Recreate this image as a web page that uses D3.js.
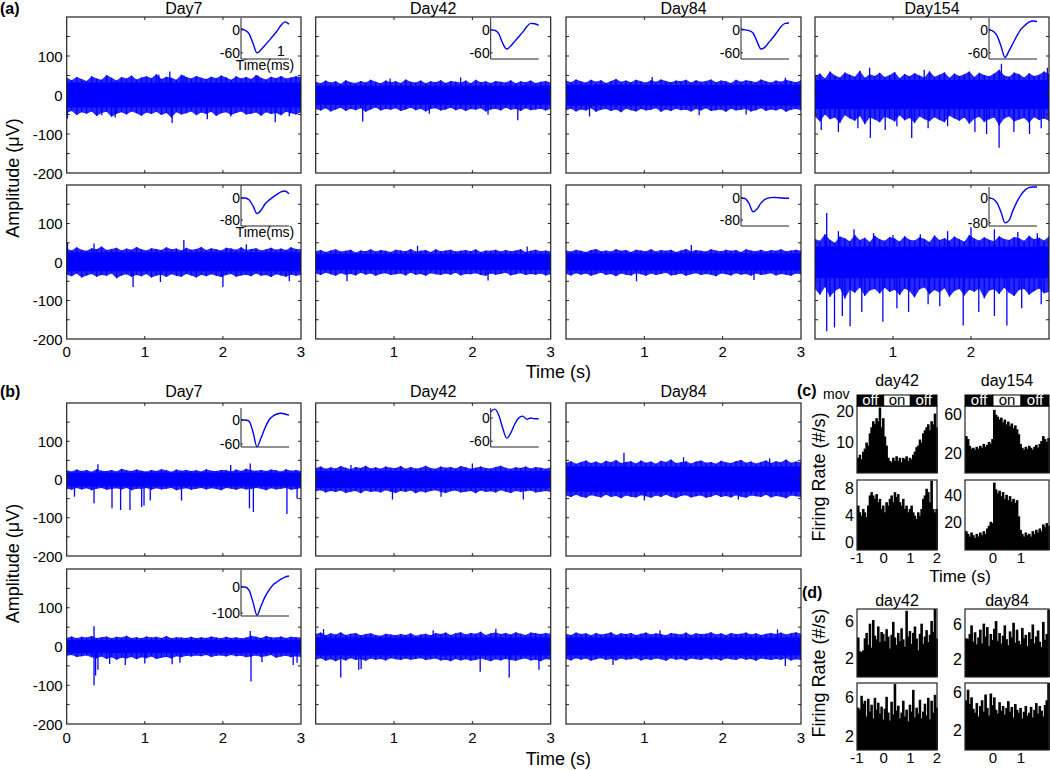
<!DOCTYPE html>
<html>
<head>
<meta charset="utf-8">
<script src="https://cdn.jsdelivr.net/npm/d3@7"></script>
<style>
  body { margin: 0; background: #fff; }
  text { font-family: "Liberation Sans", Arial, sans-serif; fill: #000; }
</style>
</head>
<body>
<div id="chart"></div>
<script>
// ---------- data ----------
// recordings: upper / lower envelope (µV) sampled evenly over 0-3 s,
// solid core band [lo, hi] and single spikes [time s, amplitude µV]
const A1Hi = [44,38,46,41,36,48,42,39,51,44,37,46,42,50,40,45,48,43,54,41,47,44,39,52,46,42,49,44,41,47,43,50,45,39,48,42,46,41,51,44,40,47,43,49,42,45,48,46];
const A1Lo = [-46,-41,-51,-44,-48,-42,-54,-46,-43,-56,-48,-44,-50,-42,-47,-53,-45,-49,-43,-51,-46,-58,-44,-50,-47,-42,-52,-45,-49,-43,-54,-47,-44,-51,-46,-42,-50,-48,-45,-53,-44,-49,-46,-52,-43,-47,-50,-44];
const A1Core = [-32, 32];
const A1Spikes = [[0.01,-60],[0.45,-52],[0.62,-58],[1.18,52],[1.32,60],[1.35,-72],[1.5,50],[1.8,-62],[2.1,-55],[2.45,50],[2.67,-70],[2.85,-55]];

const A2Hi = [34,30,37,32,35,29,38,33,31,36,32,39,34,30,37,33,35,31,40,34,32,37,30,35,33,38,31,36,34,32,37,30,39,33,35,31,36,34,32,38,30,35,33,37,31,34,36,32];
const A2Lo = [-36,-40,-34,-42,-37,-33,-41,-35,-39,-34,-43,-37,-32,-40,-36,-38,-34,-41,-37,-33,-39,-35,-42,-36,-34,-40,-37,-33,-39,-35,-41,-36,-38,-34,-42,-37,-35,-40,-33,-38,-36,-41,-34,-39,-37,-35,-40,-36];
const A2Core = [-25, 24];
const A2Spikes = [[0.6,-68],[2.58,-65],[1.85,45],[0.95,42],[2.2,-50],[1.45,-48]];

const A3Hi = [37,33,40,35,32,39,34,38,31,36,41,34,37,33,39,35,32,38,34,40,36,33,37,35,39,32,38,34,36,40,33,37,35,31,39,34,38,36,33,40,35,32,37,34,39,36,33,38];
const A3Lo = [-39,-35,-42,-37,-40,-34,-43,-38,-36,-41,-37,-44,-35,-39,-42,-36,-40,-38,-34,-43,-37,-41,-35,-39,-38,-42,-36,-40,-34,-41,-39,-37,-43,-35,-40,-38,-36,-42,-39,-34,-41,-37,-40,-35,-43,-38,-36,-39];
const A3Core = [-27, 26];
const A3Spikes = [[0.3,-55],[1.1,46],[1.7,-52],[2.3,-50],[2.8,44]];

const A4Hi = [48,55,42,60,50,45,58,52,47,62,44,53,49,57,46,51,59,43,54,48,56,50,45,61,47,52,58,44,55,49,53,60,46,57,51,48,55,65,50,47,58,53,45,56,49,52,60,54];
const A4Lo = [-55,-68,-50,-62,-58,-72,-52,-60,-66,-54,-75,-58,-63,-70,-56,-61,-68,-52,-65,-59,-72,-55,-62,-67,-57,-64,-70,-53,-60,-66,-58,-74,-61,-56,-69,-62,-58,-78,-60,-55,-68,-63,-59,-71,-57,-64,-60,-66];
const A4Core = [-36, 38];
const A4Spikes = [[0.08,-90],[0.3,-95],[0.55,-85],[0.71,-110],[0.9,-90],[1.05,-80],[1.24,-110],[1.45,-85],[1.7,-80],[2.05,-95],[2.2,-100],[2.36,-135],[2.39,80],[2.55,-95],[2.75,-100],[2.9,-85],[0.7,70],[1.4,65],[2.98,70]];

const A5Hi = [35,30,38,32,29,36,33,40,31,34,37,30,35,32,39,33,30,36,34,31,38,33,35,30,37,32,34,39,31,36,33,30,37,35,32,38,31,34,36,30,33,37,32,35,31,38,34,33];
const A5Lo = [-33,-37,-30,-40,-35,-31,-38,-34,-36,-30,-42,-35,-32,-38,-34,-37,-31,-40,-35,-33,-39,-32,-36,-38,-31,-35,-40,-33,-37,-32,-36,-39,-34,-31,-38,-35,-33,-37,-30,-36,-34,-39,-32,-35,-38,-33,-36,-34];
const A5Core = [-24, 25];
const A5Spikes = [[0.01,50],[0.35,48],[0.85,-65],[1.2,-52],[1.5,57],[2.0,-65],[2.3,46],[2.85,-50]];

const A6Hi = [28,31,26,30,33,27,29,32,25,30,28,33,27,31,29,26,32,30,28,34,27,29,31,26,33,28,30,32,27,29,31,28,33,26,30,29,32,27,31,28,30,33,26,29,32,28,30,27];
const A6Lo = [-30,-34,-28,-32,-36,-29,-33,-31,-35,-28,-33,-30,-36,-31,-29,-34,-32,-30,-35,-28,-33,-31,-36,-29,-32,-34,-30,-33,-28,-35,-31,-32,-29,-34,-36,-30,-33,-31,-28,-35,-32,-29,-34,-31,-33,-30,-35,-32];
const A6Core = [-21, 21];
const A6Spikes = [[0.4,-50],[1.3,42],[2.2,-48],[2.7,40]];

const A7Hi = [30,27,32,29,26,31,34,28,30,27,33,29,31,26,32,30,28,33,27,31,29,32,26,30,34,28,31,29,27,33,30,28,32,29,31,26,33,30,28,32,27,31,29,33,28,30,32,29];
const A7Lo = [-31,-35,-29,-33,-30,-36,-32,-28,-34,-31,-37,-30,-33,-35,-29,-32,-36,-30,-34,-31,-28,-35,-33,-30,-36,-32,-29,-34,-31,-33,-37,-30,-32,-35,-29,-33,-31,-36,-30,-34,-32,-29,-35,-31,-33,-36,-30,-32];
const A7Core = [-22, 22];
const A7Spikes = [[0.9,-50],[1.6,44],[2.4,-47]];

const A8Hi = [60,55,72,58,50,66,62,54,70,57,63,52,68,59,55,65,61,53,67,58,56,64,60,52,69,57,62,55,66,59,53,70,61,56,64,58,54,67,60,57,65,62,55,68,59,63,56,66];
const A8Lo = [-70,-85,-65,-90,-75,-68,-95,-72,-80,-66,-88,-74,-70,-82,-67,-78,-72,-86,-69,-76,-92,-71,-66,-84,-73,-79,-68,-90,-75,-70,-87,-72,-77,-69,-94,-74,-71,-83,-67,-80,-88,-73,-70,-85,-76,-69,-81,-78];
const A8Core = [-42, 40];
const A8Spikes = [[0.15,127],[0.3,80],[0.5,85],[0.75,75],[1.0,70],[1.35,72],[1.7,80],[2.0,90],[2.3,85],[2.6,78],[2.85,75],
  [0.15,-180],[0.25,-170],[0.35,-140],[0.45,-167],[0.6,-130],[0.87,-155],[1.05,-120],[1.2,-130],[1.45,-110],[1.6,-115],[1.9,-165],[2.1,-130],[2.3,-140],[2.46,-165],[2.65,-120],[2.9,-110]];

const B1Hi = [24,21,26,22,25,20,27,23,22,25,21,28,24,22,26,23,21,25,22,27,24,20,26,23,25,22,24,21,27,23,22,25,24,21,26,22,28,24,23,25,22,26,24,21,27,23,25,22];
const B1Lo = [-24,-27,-22,-26,-23,-28,-24,-22,-27,-25,-23,-26,-22,-28,-24,-25,-22,-27,-23,-26,-24,-22,-28,-25,-23,-27,-24,-22,-26,-23,-25,-28,-22,-24,-27,-23,-26,-25,-22,-24,-28,-23,-26,-24,-22,-27,-25,-23];
const B1Core = [-18, 18];
const B1Spikes = [[0.1,-45],[0.35,-62],[0.4,40],[0.58,-75],[0.69,-80],[0.81,-80],[0.96,-72],[0.99,-68],[1.07,-55],[1.47,-55],[2.1,38],[2.34,-75],[2.35,42],[2.39,-85],[2.82,-90],[2.95,-50]];

const B2Hi = [30,34,28,32,29,35,31,27,33,30,36,29,32,28,34,31,30,35,28,33,29,31,36,30,28,34,31,33,29,35,32,28,31,34,30,29,33,36,31,28,32,30,34,29,33,31,28,32];
const B2Lo = [-31,-28,-34,-30,-33,-29,-35,-32,-30,-36,-29,-33,-31,-34,-28,-32,-35,-30,-33,-29,-36,-31,-34,-30,-28,-33,-35,-31,-29,-34,-32,-30,-36,-29,-33,-31,-34,-28,-32,-35,-30,-33,-31,-29,-34,-32,-30,-33];
const B2Core = [-22, 22];
const B2Spikes = [[0.45,38],[0.98,-52],[1.6,-45],[2.0,42],[2.65,-52]];

const B3Hi = [44,48,41,46,50,43,47,42,49,45,51,43,46,48,42,50,44,47,41,49,46,52,43,45,48,42,47,50,44,46,41,49,45,43,48,51,44,47,42,46,50,43,48,45,52,44,47,46];
const B3Lo = [-42,-46,-40,-45,-48,-41,-44,-47,-40,-46,-43,-49,-42,-45,-47,-41,-44,-48,-42,-46,-40,-45,-49,-43,-41,-47,-44,-42,-48,-45,-40,-46,-43,-47,-41,-45,-48,-42,-44,-46,-40,-47,-43,-45,-49,-42,-44,-46];
const B3Core = [-32, 34];
const B3Spikes = [[0.74,70],[1.0,-55],[1.5,58],[2.2,-52],[2.6,55]];

const B4Hi = [22,26,21,25,23,27,22,24,26,21,25,23,28,22,24,21,26,23,25,22,27,21,24,23,22,25,21,24,22,26,23,21,25,22,24,21,23,28,25,22,27,24,23,26,22,25,24,23];
const B4Lo = [-24,-22,-27,-25,-23,-28,-30,-26,-32,-28,-34,-29,-31,-27,-33,-28,-30,-26,-32,-29,-27,-31,-25,-28,-24,-26,-23,-25,-22,-27,-24,-23,-26,-22,-25,-24,-28,-26,-23,-27,-25,-22,-29,-26,-24,-28,-25,-27];
const B4Core = [-17, 17];
const B4Spikes = [[0.35,52],[0.35,-100],[0.37,-75],[0.4,-60],[0.55,-45],[0.75,-48],[1.0,-44],[1.35,-46],[1.45,-42],[2.35,40],[2.36,-90],[2.5,-40],[2.9,-48],[2.95,-42]];

const B5Hi = [32,36,29,34,31,37,30,33,35,29,32,34,30,28,33,31,29,32,30,34,28,31,33,29,35,32,36,30,34,37,31,35,33,38,30,34,36,32,35,31,37,33,30,36,34,32,35,33];
const B5Lo = [-34,-30,-37,-33,-38,-32,-36,-30,-35,-33,-37,-31,-34,-32,-36,-30,-33,-35,-31,-34,-32,-30,-35,-33,-31,-36,-34,-38,-32,-36,-33,-37,-35,-31,-34,-38,-33,-36,-32,-35,-37,-33,-31,-36,-34,-38,-32,-35];
const B5Core = [-23, 23];
const B5Spikes = [[0.1,45],[0.32,-80],[0.55,-60],[0.58,-58],[1.5,42],[2.1,-65],[2.3,46],[2.47,-80],[2.85,-60]];

const B6Hi = [33,30,36,32,34,29,35,31,33,37,30,34,32,35,30,33,36,31,34,32,29,35,33,31,36,30,34,32,33,37,31,34,30,35,32,33,36,31,34,30,33,35,32,36,31,34,37,33];
const B6Lo = [-32,-36,-30,-34,-31,-37,-33,-30,-35,-32,-36,-31,-34,-33,-30,-36,-32,-35,-31,-33,-37,-30,-34,-32,-36,-31,-33,-35,-30,-34,-32,-36,-31,-33,-35,-30,-34,-32,-37,-31,-33,-35,-32,-34,-30,-36,-33,-35];
const B6Core = [-23, 23];
const B6Spikes = [[0.6,-48],[1.2,42],[2.7,44],[2.8,-50]];

// mean spike waveforms (µV), 0.1 ms apart from 0 to 1.2 ms
const wA1 = [3,-1,-10,-35,-60,-52,-40,-28,-16,-3,12,21,15];
const wA2 = [0,-1,-10,-35,-50,-42,-30,-18,-6,8,17,16,12];
const wA3 = [2,0,-2,-8,-30,-50,-45,-32,-20,-6,8,17,18];
const wA4 = [0,-3,-15,-42,-72,-55,-35,-15,2,12,20,23,22];
const wA5 = [0,0,-7,-29,-57,-45,-22,-8,3,13,22,25,15];
const wA7 = [0,-2,-20,-50,-40,-18,-5,0,2,1,0,-1,-1];
const wA8 = [0,-3,-16,-45,-80,-72,-40,-12,10,25,33,35,35];
const wB1 = [0,0,-3,-30,-67,-45,-20,0,10,15,17,15,12];
const wB2 = [16,23,8,-26,-52,-39,-16,0,5,-3,0,-2,-2];
const wB4 = [0,0,-12,-58,-108,-73,-38,-12,8,19,30,38,42];

// peri-event firing-rate histograms (#/s), 48 bins from -1 to 2 s
const cDay42Top = [5,6,4.5,7,8,10,9,13,15,17,16,18,17,21.5,15,18,12,9,5,4,3.5,5,4,5.5,4,5,3.5,5,4.5,5.5,4,5,4.5,6,7,8.5,9,11,10,13,14,15,16,14,17,16,19.5,15];
const cDay154Top = [38,35,28,25,26,24,27,25,28,26,30,27,29,32,30,35,65,60,58,55,57,52,55,50,53,48,51,46,49,45,40,30,26,24,27,25,28,26,24,27,29,26,30,33,38,35,32,36];
const cDay42Bot = [5.5,4.5,4,5,4.5,3.8,5.5,7,7.5,7,6.5,7.2,6,6.5,5,5.5,4.5,6,5.5,6.5,7,6,7.5,6.8,7.2,6,5.5,6.5,5,5.5,4.5,5,5.5,4.5,4,3.5,4.5,4,5,6.5,7,8,7.5,6,9.2,5,4.5,5];
const cDay154Bot = [14,12,10,13,11,9,12,10,13,11,14,12,16,18,21,20,50,45,42,44,40,43,38,41,37,40,36,38,35,37,25,15,12,10,13,11,12,10,14,12,15,13,16,14,19,17,20,18];
const dDay42Top = [4.3,2.8,2.7,2.9,4.2,4.8,3.5,5.8,3.2,6.2,4.5,4.1,5.5,3.8,4.9,4.7,3.9,5.2,4.4,3.1,4.6,6.0,4.3,3.5,4.8,3.9,5.3,4.1,3.3,7.2,4.4,5.0,3.6,4.8,5.5,4.2,2.9,4.7,5.8,3.6,4.4,5.1,3.8,4.6,6.1,4.9,7.4,4.2];
const dDay84Top = [4.5,4.4,5.0,6.0,4.1,5.2,3.8,4.6,5.5,3.9,6.2,4.7,5.8,3.6,5.0,4.3,5.6,6.5,4.2,5.1,3.9,4.8,6.0,4.4,3.7,5.3,4.6,6.3,4.0,5.5,4.2,3.8,5.7,4.5,4.9,3.6,5.2,4.4,6.1,3.9,4.7,5.4,4.1,3.5,6.4,4.3,5.0,7.8];
const dDay42Bot = [5.0,4.8,6.2,5.4,5.7,4.1,5.9,4.6,5.3,3.9,6.0,4.8,5.5,4.4,5.1,3.8,4.9,6.1,4.5,3.7,5.6,4.3,7.4,4.7,5.2,3.9,4.5,5.7,4.1,4.8,3.6,5.3,4.6,6.8,4.0,5.0,4.4,5.8,3.9,4.6,5.4,4.2,6.0,3.8,5.7,4.5,6.3,5.0];
const dDay84Bot = [5.2,6.3,4.8,5.5,4.3,3.9,4.9,3.5,4.6,5.2,4.0,5.8,4.4,3.6,5.9,4.7,5.5,4.2,3.8,5.0,4.1,4.6,3.7,4.4,5.1,4.0,4.5,3.4,4.8,4.2,3.9,4.4,3.3,4.0,4.6,3.6,3.9,4.5,3.4,4.2,4.9,3.8,4.6,4.1,3.5,4.7,5.2,7.0];

const dayTitlesA = ["Day7", "Day42", "Day84", "Day154"];
const dayTitlesB = ["Day7", "Day42", "Day84"];
const yTickLabels = [-200, -100, 0, 100];
const yTickMarks = [-150, -100, -50, 0, 50, 100, 150];
const xTickLabels = [0, 1, 2, 3];
const movStates = ["off", "on", "off"];
const movEdges = [-1, 0, 1, 2];

// ---------- layout ----------
const W = 1050, H = 770;
const colX = [[66.7, 301], [315.7, 550.7], [566, 801], [815, 1049]];
const rowA = [[17, 173], [185, 339]];
const rowB = [[403, 556], [569, 724]];
const blue = "#0000ff";

const svg = d3.select("#chart").append("svg")
    .attr("width", W)
    .attr("height", H);

let clipN = 0;

function drawTrace(cx, ry, hi, lo, core, spikes, opts) {
    const [x0, x1] = cx, [y0, y1] = ry;
    const x = d3.scaleLinear().domain([0, 3]).range([x0, x1]);
    const xi = d3.scaleLinear().domain([0, hi.length - 1]).range([x0, x1]);
    const y = d3.scaleLinear().domain([-200, 200]).range([y1, y0]);

    const id = "clip" + (clipN++);
    svg.append("clipPath").attr("id", id)
        .append("rect")
        .attr("x", x0).attr("y", y0)
        .attr("width", x1 - x0).attr("height", y1 - y0);
    const g = svg.append("g").attr("clip-path", `url(#${id})`);

    // fringe between envelopes
    const band = d3.area()
        .x((d, i) => xi(i))
        .y0((d, i) => y(lo[i]))
        .y1(d => y(d));
    g.append("path").datum(hi)
        .attr("d", band)
        .attr("fill", blue)
        .attr("fill-opacity", 0.85);

    // one stroke per envelope sample gives the spiky edge
    g.selectAll("line.env")
        .data(hi)
        .enter()
        .append("line")
        .attr("x1", (d, i) => xi(i)).attr("x2", (d, i) => xi(i))
        .attr("y1", d => y(d))
        .attr("y2", (d, i) => y(lo[i]))
        .attr("stroke", blue)
        .attr("stroke-width", 1.3);

    g.append("rect")
        .attr("x", x0).attr("width", x1 - x0)
        .attr("y", y(core[1]))
        .attr("height", y(core[0]) - y(core[1]))
        .attr("fill", blue);

    g.selectAll("line.spike")
        .data(spikes)
        .enter()
        .append("line")
        .attr("x1", d => x(d[0])).attr("x2", d => x(d[0]))
        .attr("y1", y(0)).attr("y2", d => y(d[1]))
        .attr("stroke", blue)
        .attr("stroke-width", 1.3);

    // box
    svg.append("rect")
        .attr("x", x0).attr("y", y0)
        .attr("width", x1 - x0).attr("height", y1 - y0)
        .attr("fill", "none").attr("stroke", "#222").attr("stroke-width", 1.2);

    // inward ticks
    const t = svg.append("g").attr("stroke", "#222").attr("stroke-width", 1);
    yTickMarks.forEach(v => {
        t.append("line").attr("x1", x0).attr("x2", x0 + 3).attr("y1", y(v)).attr("y2", y(v));
        t.append("line").attr("x1", x1).attr("x2", x1 - 3).attr("y1", y(v)).attr("y2", y(v));
    });
    [1, 2].forEach(v => {
        t.append("line").attr("x1", x(v)).attr("x2", x(v)).attr("y1", y0).attr("y2", y0 + 3);
        t.append("line").attr("x1", x(v)).attr("x2", x(v)).attr("y1", y1).attr("y2", y1 - 3);
    });

    if (opts.yLabels) {
        svg.append("g").selectAll("text")
            .data(yTickLabels)
            .enter()
            .append("text")
            .attr("x", x0 - 4)
            .attr("y", d => y(d) + 5.5)
            .attr("text-anchor", "end")
            .style("font-size", "15px")
            .text(d => d);
    }
    if (opts.xLabels) {
        svg.append("g").selectAll("text")
            .data(opts.xLabels)
            .enter()
            .append("text")
            .attr("x", d => x(d))
            .attr("y", y1 + opts.xLabelGap)
            .attr("text-anchor", "middle")
            .style("font-size", "15px")
            .text(d => d);
    }
    return { x0, x1, y0, y1 };
}

function drawInset(p, wave, yDom, ticks, lay, extra) {
    const left = p.x1 - 60, top = p.y0 + lay.dy, w = 48, h = lay.h;
    const ix = d3.scaleLinear().domain([0, 1.2]).range([left, left + w]);
    const iy = d3.scaleLinear().domain(yDom).range([top + h, top]);
    const line = d3.line().x((d, i) => ix(i * 0.1)).y(d => iy(d)).curve(d3.curveMonotoneX);

    svg.append("path").datum(wave)
        .attr("d", line)
        .attr("fill", "none")
        .attr("stroke", blue)
        .attr("stroke-width", 1.4);

    const ax = svg.append("g").attr("stroke", "#222").attr("stroke-width", 1);
    ax.append("line").attr("x1", left).attr("x2", left).attr("y1", top).attr("y2", top + h);
    ax.append("line").attr("x1", left).attr("x2", left + w).attr("y1", top + h).attr("y2", top + h);
    ticks.forEach(v => ax.append("line").attr("x1", left).attr("x2", left + 2).attr("y1", iy(v)).attr("y2", iy(v)));

    svg.append("g").selectAll("text")
        .data(ticks)
        .enter()
        .append("text")
        .attr("x", left - 1)
        .attr("y", d => iy(d) + 5)
        .attr("text-anchor", "end")
        .style("font-size", "14px")
        .text(d => d);

    if (extra && extra.one) {
        svg.append("text").attr("x", ix(1)).attr("y", top + h - 3)
            .attr("text-anchor", "middle").style("font-size", "14px").text("1");
    }
    if (extra && extra.time) {
        svg.append("text").attr("x", left + w / 2).attr("y", top + h + 11)
            .attr("text-anchor", "middle").style("font-size", "14px").text("Time(ms)");
    }
}

// ---------- (a) ----------
const aTraces = [
    [A1Hi, A1Lo, A1Core, A1Spikes], [A2Hi, A2Lo, A2Core, A2Spikes], [A3Hi, A3Lo, A3Core, A3Spikes], [A4Hi, A4Lo, A4Core, A4Spikes],
    [A5Hi, A5Lo, A5Core, A5Spikes], [A6Hi, A6Lo, A6Core, A6Spikes], [A7Hi, A7Lo, A7Core, A7Spikes], [A8Hi, A8Lo, A8Core, A8Spikes]
];
const aXLabels = [xTickLabels, [1, 2, 3], [1, 2, 3], [1, 2]];
const aPanels = aTraces.map((tr, k) => {
    const r = Math.floor(k / 4), c = k % 4;
    return drawTrace(colX[c], rowA[r], tr[0], tr[1], tr[2], tr[3], {
        yLabels: c === 0,
        xLabels: r === 1 ? aXLabels[c] : null,
        xLabelGap: 18
    });
});

drawInset(aPanels[0], wA1, [-76, 31], [0, -60], { dy: 1, h: 41 }, { one: true, time: true });
drawInset(aPanels[1], wA2, [-76, 31], [0, -60], { dy: 1, h: 41 });
drawInset(aPanels[2], wA3, [-76, 31], [0, -60], { dy: 1, h: 41 });
drawInset(aPanels[3], wA4, [-76, 31], [0, -60], { dy: 1, h: 41 });
drawInset(aPanels[4], wA5, [-102, 47], [0, -80], { dy: 0, h: 41 }, { time: true });
drawInset(aPanels[6], wA7, [-102, 47], [0, -80], { dy: 0, h: 41 });
drawInset(aPanels[7], wA8, [-90, 35], [0, -80], { dy: 2, h: 39 });

dayTitlesA.forEach((t, c) => {
    svg.append("text")
        .attr("x", (colX[c][0] + colX[c][1]) / 2)
        .attr("y", rowA[0][0] - 3)
        .attr("text-anchor", "middle")
        .style("font-size", "16px")
        .text(t);
});

// ---------- (b) ----------
const bTraces = [
    [B1Hi, B1Lo, B1Core, B1Spikes], [B2Hi, B2Lo, B2Core, B2Spikes], [B3Hi, B3Lo, B3Core, B3Spikes],
    [B4Hi, B4Lo, B4Core, B4Spikes], [B5Hi, B5Lo, B5Core, B5Spikes], [B6Hi, B6Lo, B6Core, B6Spikes]
];
const bXLabels = [xTickLabels, [1, 2, 3], [1, 2, 3]];
const bPanels = bTraces.map((tr, k) => {
    const r = Math.floor(k / 3), c = k % 3;
    return drawTrace(colX[c], rowB[r], tr[0], tr[1], tr[2], tr[3], {
        yLabels: c === 0,
        xLabels: r === 1 ? bXLabels[c] : null,
        xLabelGap: 19
    });
});

drawInset(bPanels[0], wB1, [-67.5, 30], [0, -60], { dy: 5, h: 39 });
drawInset(bPanels[1], wB2, [-75, 26], [0, -60], { dy: 5, h: 39 });
drawInset(bPanels[3], wB4, [-111, 65], [0, -100], { dy: 1, h: 46 });

dayTitlesB.forEach((t, c) => {
    svg.append("text")
        .attr("x", (colX[c][0] + colX[c][1]) / 2)
        .attr("y", rowB[0][0] - 6)
        .attr("text-anchor", "middle")
        .style("font-size", "16px")
        .text(t);
});

// shared labels for (a) and (b)
[[(rowA[0][0] + rowA[1][1]) / 2, 378], [(rowB[0][0] + rowB[1][1]) / 2, 765]].forEach(([cy, ty]) => {
    svg.append("text")
        .attr("transform", `translate(19, ${cy}) rotate(-90)`)
        .attr("text-anchor", "middle")
        .style("font-size", "18px")
        .text("Amplitude (\u03bcV)");
    svg.append("text")
        .attr("x", (colX[1][1] + colX[2][0]) / 2)
        .attr("y", ty)
        .attr("text-anchor", "middle")
        .style("font-size", "18px")
        .text("Time (s)");
});

// ---------- (c) and (d) ----------
const hCols = [[857, 937], [965, 1049]];

function drawHist(cx, ry, vals, yDom, yTicks, xLabels) {
    const [x0, x1] = cx, [y0, y1] = ry;
    const x = d3.scaleLinear().domain([-1, 2]).range([x0, x1]);
    const y = d3.scaleLinear().domain(yDom).range([y1, y0]);
    const bw = 3 / vals.length;

    svg.append("g").selectAll("rect")
        .data(vals)
        .enter()
        .append("rect")
        .attr("x", (d, i) => x(-1 + i * bw))
        .attr("width", x(bw) - x(0) + 0.9)
        .attr("y", d => y(d))
        .attr("height", d => y(yDom[0]) - y(d))
        .attr("fill", "#000");

    svg.append("rect")
        .attr("x", x0).attr("y", y0)
        .attr("width", x1 - x0).attr("height", y1 - y0)
        .attr("fill", "none").attr("stroke", "#222").attr("stroke-width", 1.2);

    svg.append("g").selectAll("text")
        .data(yTicks)
        .enter()
        .append("text")
        .attr("x", x0 - 3)
        .attr("y", d => y(d) + 5)
        .attr("text-anchor", "end")
        .style("font-size", "16px")
        .text(d => d);

    if (xLabels) {
        svg.append("g").selectAll("text")
            .data(xLabels)
            .enter()
            .append("text")
            .attr("x", d => x(d))
            .attr("y", y1 + 13)
            .attr("text-anchor", "middle")
            .style("font-size", "15px")
            .text(d => d);
    }
    return x;
}

const cTop = [406, 473], cBot = [480, 550];
const dTop = [609, 677], dBot = [683, 750];

const cx42 = drawHist(hCols[0], cTop, cDay42Top, [0, 22], [10, 20]);
const cx154 = drawHist(hCols[1], cTop, cDay154Top, [0, 69], [20, 60]);
drawHist(hCols[0], cBot, cDay42Bot, [-1.1, 9.3], [0, 4, 8], [-1, 0, 1, 2]);
drawHist(hCols[1], cBot, cDay154Bot, [0, 52], [20, 40], [0, 1]);

drawHist(hCols[0], dTop, dDay42Top, [0, 7.4], [2, 6]);
drawHist(hCols[1], dTop, dDay84Top, [0, 7.9], [2, 6]);
drawHist(hCols[0], dBot, dDay42Bot, [0.7, 7.5], [2, 6], [-1, 0, 1, 2]);
drawHist(hCols[1], dBot, dDay84Bot, [0, 7], [2, 6], [0, 1]);

// movement on/off bars above (c)
[cx42, cx154].forEach(x => {
    movStates.forEach((s, i) => {
        svg.append("rect")
            .attr("x", x(movEdges[i]))
            .attr("y", 395)
            .attr("width", x(movEdges[i + 1]) - x(movEdges[i]))
            .attr("height", 11)
            .attr("fill", s === "off" ? "#000" : "#fff")
            .attr("stroke", "#000");
        svg.append("text")
            .attr("x", (x(movEdges[i]) + x(movEdges[i + 1])) / 2)
            .attr("y", 405)
            .attr("text-anchor", "middle")
            .style("font-size", "15px")
            .style("fill", s === "off" ? "#fff" : "#000")
            .text(s);
    });
});

[["day42", hCols[0], 386], ["day154", hCols[1], 386], ["day42", hCols[0], 606], ["day84", hCols[1], 606]].forEach(([t, c, yy]) => {
    svg.append("text")
        .attr("x", (c[0] + c[1]) / 2)
        .attr("y", yy)
        .attr("text-anchor", "middle")
        .style("font-size", "16px")
        .text(t);
});

svg.append("text").attr("x", 823).attr("y", 399).style("font-size", "14px").text("mov");
svg.append("text").attr("x", 960).attr("y", 582).attr("text-anchor", "middle").style("font-size", "17px").text("Time (s)");

[477, 673].forEach(cy => {
    svg.append("text")
        .attr("transform", `translate(825, ${cy}) rotate(-90)`)
        .attr("text-anchor", "middle")
        .style("font-size", "18px")
        .text("Firing Rate (#/s)");
});

// panel letters
[["(a)", 0, 14], ["(b)", 0, 397], ["(c)", 797, 396], ["(d)", 802, 598]].forEach(([t, x, y]) => {
    svg.append("text")
        .attr("x", x).attr("y", y)
        .style("font-size", "16px")
        .style("font-weight", "bold")
        .text(t);
});
</script>
</body>
</html>
